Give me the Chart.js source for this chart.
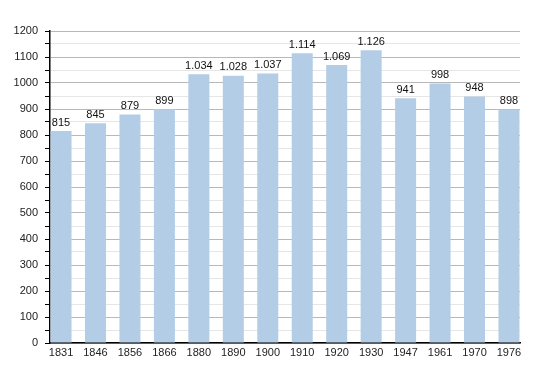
<!DOCTYPE html>
<html>
<head>
<meta charset="utf-8">
<script src="https://cdn.jsdelivr.net/npm/chart.js@4/dist/chart.umd.min.js"></script>
<style>
html,body{margin:0;padding:0;background:#fff;}
#wrap{width:550px;height:373px;}
</style>
</head>
<body>
<div id="wrap"><canvas id="c" width="550" height="373"></canvas></div>
<script>
const years = ["1831","1846","1856","1866","1880","1890","1900","1910","1920","1930","1947","1961","1970","1976"];
const population = [815, 845, 879, 899, 1034, 1028, 1037, 1114, 1069, 1126, 941, 998, 948, 898];
const yTicks = [0,100,200,300,400,500,600,700,800,900,1000,1100,1200];

const FONT = "'Liberation Sans', Arial, sans-serif";

function fmt(v){
  return v >= 1000 ? Math.floor(v/1000) + '.' + String(v%1000).padStart(3,'0') : String(v);
}

const valueLabels = {
  id: 'valueLabels',
  afterDatasetsDraw(chart){
    const ctx = chart.ctx;
    const meta = chart.getDatasetMeta(0);
    ctx.save();
    ctx.font = '11px ' + FONT;
    ctx.fillStyle = '#111';
    ctx.textAlign = 'center';
    ctx.textBaseline = 'bottom';
    meta.data.forEach((el, i) => {
      ctx.fillText(fmt(population[i]), el.x, el.y - 3);
    });
    ctx.restore();
  }
};

new Chart(document.getElementById('c'), {
  type: 'bar',
  data: {
    datasets: [{
      data: population.map((v, i) => ({x: i, y: v})),
      backgroundColor: '#b4cde6',
      borderWidth: 0,
      categoryPercentage: 1,
      barPercentage: 0.61
    }]
  },
  plugins: [valueLabels],
  options: {
    responsive: false,
    animation: false,
    layout: {padding: {top: 31, right: 30, left: 0, bottom: 0}},
    plugins: {legend: {display: false}, tooltip: {enabled: false}},
    scales: {
      x: {
        type: 'linear',
        offset: false,
        min: -0.32,
        max: years.length - 1 + 0.32,
        afterFit(s){ s.height = 30; },
        afterBuildTicks(s){
          s.ticks = years.map((y, i) => ({value: i}));
        },
        grid: {display: false, drawTicks: false, offset: false},
        border: {display: true, color: '#000', width: 1.5},
        ticks: {
          autoSkip: false,
          maxRotation: 0,
          padding: 3,
          color: '#222',
          font: {family: FONT, size: 11},
          callback: (v) => years[v] !== undefined ? years[v] : ''
        }
      },
      y: {
        min: 0,
        max: 1200,
        afterFit(s){ s.width = 50; },
        ticks: {
          stepSize: 50,
          autoSkip: false,
          padding: 7,
          color: '#222',
          font: {family: FONT, size: 11},
          callback: (v) => (v % 100 === 0 && yTicks.includes(v)) ? String(v) : ''
        },
        grid: {
          color: (c) => (c.tick && c.tick.value % 100 === 0) ? '#b8b8b8' : '#e6e6e6',
          lineWidth: 1,
          tickLength: 5,
          tickColor: '#000',
          drawTicks: true
        },
        border: {display: true, color: '#000', width: 1.5}
      }
    }
  }
});
</script>
</body>
</html>
